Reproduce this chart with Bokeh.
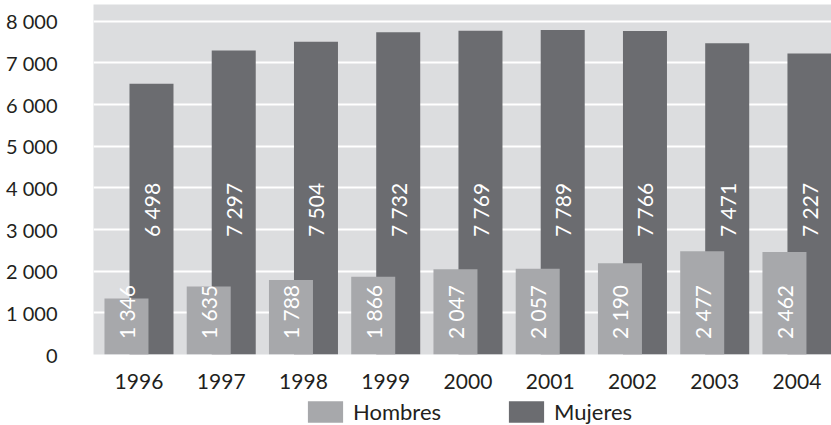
from bokeh.plotting import figure
from bokeh.models import (ColumnDataSource, Range1d, FixedTicker, Legend, LegendItem)
from bokeh.layouts import column
from bokeh.embed import file_html
from bokeh.resources import INLINE
from bokeh.core.properties import value
import math

# ---- data ----
years = [1996, 1997, 1998, 1999, 2000, 2001, 2002, 2003, 2004]
hombres = [1346, 1635, 1788, 1866, 2047, 2057, 2190, 2477, 2462]
mujeres = [6498, 7297, 7504, 7732, 7769, 7789, 7766, 7471, 7227]
y_ticks = [0, 1000, 2000, 3000, 4000, 5000, 6000, 7000, 8000]
y_tick_labels = ["0", "1 000", "2 000", "3 000", "4 000", "5 000", "6 000", "7 000", "8 000"]
series_names = ["Hombres", "Mujeres"]

# ---- style ----
FONT = "Lato"
TXT = "#231f20"
C_H = "#a7a8ab"
C_M = "#6b6c70"
BG = "#dcdddf"
OFF = 0.152
BW = 0.535
LABEL_Y_H = 370
LABEL_Y_M = 2820

def fmt(v):
    return f"{v:,}".replace(",", " ")

src = ColumnDataSource(dict(
    x_h=[y - OFF for y in years],
    x_m=[y + OFF for y in years],
    h=hombres,
    m=mujeres,
    lab_h=[fmt(v) for v in hombres],
    lab_m=[fmt(v) for v in mujeres],
    ly_h=[LABEL_Y_H] * len(years),
    ly_m=[LABEL_Y_M] * len(years),
))

p = figure(width=831, height=394,
           x_range=Range1d(1995.447, 2004.42), y_range=Range1d(0, 8400),
           output_backend="svg", toolbar_location=None,
           min_border_left=93, min_border_right=0, min_border_top=4, min_border_bottom=40)

p.outline_line_color = None
p.background_fill_color = BG
p.border_fill_color = "white"

p.xgrid.grid_line_color = None
p.ygrid.grid_line_color = "white"
p.ygrid.grid_line_width = 2
p.ygrid.ticker = FixedTicker(ticks=y_ticks[1:])

p.yaxis.ticker = FixedTicker(ticks=y_ticks)
p.yaxis.major_label_overrides = {t: l for t, l in zip(y_ticks, y_tick_labels)}
p.xaxis.ticker = FixedTicker(ticks=years)
p.xaxis.major_label_overrides = {y: str(y) for y in years}

for ax in (p.xaxis, p.yaxis):
    ax.axis_line_color = None
    ax.major_tick_line_color = None
    ax.minor_tick_line_color = None
    ax.major_label_text_font = FONT
    ax.major_label_text_font_size = "21px"
    ax.major_label_text_color = TXT
p.yaxis.major_label_text_font_size = "20px"
p.yaxis.major_label_standoff = 30
p.xaxis.major_label_standoff = 13

r_m = p.vbar(x="x_m", top="m", width=BW, bottom=0, source=src,
             fill_color=C_M, line_color=None)
r_h = p.vbar(x="x_h", top="h", width=BW, bottom=0, source=src,
             fill_color=C_H, line_color=None)

p.text(x="x_m", y="ly_m", text="lab_m", source=src, angle=math.pi / 2,
       text_align="left", text_baseline="middle", text_color="white",
       text_font=value(FONT), text_font_size="21px")
p.text(x="x_h", y="ly_h", text="lab_h", source=src, angle=math.pi / 2,
       text_align="left", text_baseline="middle", text_color="white",
       text_font=value(FONT), text_font_size="21px")

# ---- legend strip (separate figure below the chart; its frame aligns with p's) ----
pl = figure(width=831, height=31, x_range=Range1d(0, 1), y_range=Range1d(0, 1),
            output_backend="svg", toolbar_location=None,
            x_axis_location=None, y_axis_location=None, min_border=0)
pl.outline_line_color = None
pl.grid.grid_line_color = None
pl.background_fill_color = "white"
pl.border_fill_color = "white"
# same series, drawn outside this strip's ranges, only to supply legend swatches
lh = pl.vbar(x="x_h", top="h", width=BW, source=src, fill_color=C_H, line_color=None)
lm = pl.vbar(x="x_m", top="m", width=BW, source=src, fill_color=C_M, line_color=None)

legend = Legend(items=[LegendItem(label=series_names[0], renderers=[lh]),
                       LegendItem(label=series_names[1], renderers=[lm])],
                orientation="horizontal", location=(210, 0),
                glyph_width=44, glyph_height=27, label_standoff=6, spacing=63,
                padding=0, margin=0, border_line_color=None,
                background_fill_alpha=0,
                label_text_font=FONT, label_text_font_size="22px",
                label_text_color=TXT, label_height=27)
pl.add_layout(legend, "center")

layout = column(p, pl, spacing=0)
open("out.html", "w").write(file_html(layout, INLINE))
